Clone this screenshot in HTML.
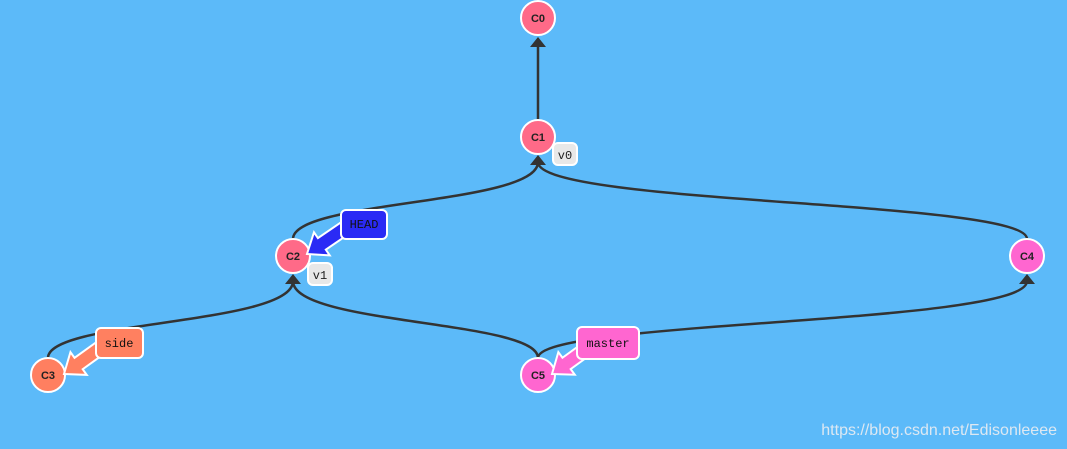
<!DOCTYPE html>
<html><head><meta charset="utf-8"><style>
html,body{margin:0;padding:0;background:#5cbaf9;}
svg{display:block;}
text{font-family:"Liberation Mono",monospace;}
</style></head><body>
<svg width="1067" height="449" viewBox="0 0 1067 449">
<rect width="1067" height="449" fill="#5cbaf9"/>
<g fill="none" stroke="#333" stroke-width="2.5">
<line x1="538" y1="120" x2="538" y2="44"/>
<path d="M293,239 C293,200 538,205 538,162"/>
<path d="M1027,239 C1027,200 538,205 538,162"/>
<path d="M48,358 C48,320 293,325 293,281"/>
<path d="M538,358 C538,320 293,325 293,281"/>
<path d="M538,358 C538,320 1027,325 1027,281"/>
</g>
<g fill="#333">
<polygon points="538,37 530,47 546,47"/>
<polygon points="538,155 530,165 546,165"/>
<polygon points="293,274 285,284 301,284"/>
<polygon points="1027,274 1019,284 1035,284"/>
</g>
<g stroke="#fff" stroke-width="2">
<circle cx="538" cy="18" r="17" fill="#ff6a88"/>
<circle cx="538" cy="137" r="17" fill="#ff6a88"/>
<circle cx="293" cy="256" r="17" fill="#ff6a88"/>
<circle cx="48" cy="375" r="17" fill="#ff7f60"/>
<circle cx="1027" cy="256" r="17" fill="#ff66d0"/>
<circle cx="538" cy="375" r="17" fill="#ff66d0"/>
</g>
<g font-size="11" font-weight="bold" text-anchor="middle" fill="#222">
<text x="538" y="22" style="font-family:'Liberation Sans'">C0</text>
<text x="538" y="141" style="font-family:'Liberation Sans'">C1</text>
<text x="293" y="260" style="font-family:'Liberation Sans'">C2</text>
<text x="48" y="379" style="font-family:'Liberation Sans'">C3</text>
<text x="1027" y="260" style="font-family:'Liberation Sans'">C4</text>
<text x="538" y="379" style="font-family:'Liberation Sans'">C5</text>
</g>
<rect x="553" y="143" width="24" height="22" rx="5" fill="#e8e8e8" stroke="#fff" stroke-width="2"/>
<text x="565" y="159" font-size="12" text-anchor="middle" fill="#222">v0</text>
<rect x="308" y="263" width="24" height="22" rx="5" fill="#e8e8e8" stroke="#fff" stroke-width="2"/>
<text x="320" y="279" font-size="12" text-anchor="middle" fill="#222">v1</text>
<g stroke="#fff" stroke-width="2" stroke-linejoin="miter">
<polygon transform="translate(307,254) rotate(145.7)" points="0,0 -18,-14 -18,-7 -54,-7 -54,7 -18,7 -18,14" fill="#2a2af5"/>
<polygon transform="translate(64,374) rotate(144.3)" points="0,0 -18,-14 -18,-7 -52,-7 -52,7 -18,7 -18,14" fill="#ff8060"/>
<polygon transform="translate(552,374) rotate(144)" points="0,0 -18,-14 -18,-7 -46,-7 -46,7 -18,7 -18,14" fill="#ff66d0"/>
</g>
<rect x="341" y="210" width="46" height="29" rx="5" fill="#2a2af5" stroke="#fff" stroke-width="2"/>
<text x="364" y="228" font-size="12" text-anchor="middle" fill="#111">HEAD</text>
<rect x="96" y="328" width="47" height="30" rx="5" fill="#ff8060" stroke="#fff" stroke-width="2"/>
<text x="119" y="347" font-size="12" text-anchor="middle" fill="#111">side</text>
<rect x="577" y="327" width="62" height="32" rx="5" fill="#ff66d0" stroke="#fff" stroke-width="2"/>
<text x="608" y="347" font-size="12" text-anchor="middle" fill="#111">master</text>
<text x="1057" y="435" font-size="16" text-anchor="end" fill="#dde8f2" style="font-family:'Liberation Sans'">https://blog.csdn.net/Edisonleeee</text>
</svg>
</body></html>
